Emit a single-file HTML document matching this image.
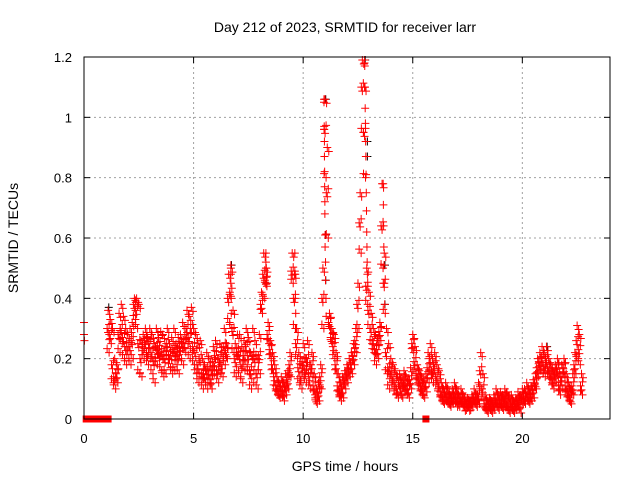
<!DOCTYPE html>
<html><head><meta charset="utf-8"><style>
body{margin:0;background:#fff;}
svg{display:block;font-family:"Liberation Sans",sans-serif;}
</style></head><body>
<svg id="chart" width="640" height="480" viewBox="0 0 640 480" xmlns="http://www.w3.org/2000/svg">
<text x="345" y="32" font-size="14" text-anchor="middle">Day 212 of 2023, SRMTID for receiver larr</text>
<text x="345" y="471" font-size="14" text-anchor="middle">GPS time / hours</text>
<text x="18" y="238" font-size="14" text-anchor="middle" transform="rotate(-90 18 238)">SRMTID / TECUs</text>
<g id="grid"></g>
<g id="marks"></g>
<g id="axes"></g>
</svg>
<script>
const xTicks=[0,5,10,15,20];
const yTicks=[0,0.2,0.4,0.6,0.8,1.0,1.2];
const yTickLabels=["0","0.2","0.4","0.6","0.8","1","1.2"];
const startT=[0,0,0.02];
const startV=[0.32,0.28,0.26];
const zeroT=[0.1,0.2,0.3,0.55,0.65,0.75,0.85,0.95,1.05,1.1,15.6];
const hiV=[.36,.33,.30,.20,.18,.35,.38,.34,.30,.28,
.30,.32,.40,.40,.38,.26,.28,.30,.27,.30,
.28,.25,.30,.27,.29,.28,.24,.30,.25,.27,
.30,.25,.27,.28,.32,.28,.36,.34,.37,.30,
.28,.25,.26,.20,.18,.22,.20,.16,.24,.26,
.20,.25,.22,.30,.25,.48,.50,.36,.25,.28,
.28,.24,.26,.30,.27,.22,.30,.26,.20,.28,
.42,.55,.50,.32,.26,.22,.18,.14,.12,.14,
.12,.15,.16,.22,.55,.48,.30,.22,.18,.25,
.20,.26,.18,.22,.15,.10,.12,.18,.50,1.06,
.90,.35,.30,.28,.22,.15,.12,.14,.16,.18,
.20,.22,.25,.30,.45,.75,1.19,1.10,.50,.42,
.35,.30,.28,.26,.32,.78,.55,.30,.25,.20,
.18,.16,.14,.15,.12,.16,.14,.13,.17,.28,
.24,.18,.16,.14,.12,.15,.22,.25,.20,.22,
.18,.16,.12,.10,.12,.10,.08,.10,.12,.10,
.08,.10,.08,.06,.07,.06,.08,.10,.08,.12,
.22,.15,.08,.06,.07,.06,.08,.10,.08,.09,
.08,.10,.09,.07,.08,.06,.07,.09,.08,.10,
.10,.12,.10,.11,.13,.15,.20,.22,.24,.22,
.24,.20,.18,.16,.18,.20,.15,.18,.20,.15,
.12,.10,.15,.22,.31,.28,.15];
const midV=[.30,.28,.18,.14,.15,.28,.30,.27,.24,.24,
.24,.26,.38,.36,.25,.20,.24,.26,.22,.25,
.22,.19,.24,.23,.22,.21,.20,.25,.21,.21,
.23,.22,.21,.24,.25,.25,.30,.27,.30,.24,
.22,.18,.20,.15,.15,.16,.16,.13,.19,.21,
.16,.20,.18,.24,.22,.40,.42,.29,.20,.22,
.21,.18,.21,.24,.21,.16,.21,.20,.15,.21,
.38,.48,.46,.28,.23,.18,.14,.11,.09,.11,
.09,.11,.13,.18,.49,.40,.25,.17,.14,.19,
.16,.20,.14,.18,.11,.07,.09,.14,.40,.96,
.75,.32,.27,.24,.18,.11,.09,.10,.13,.15,
.17,.18,.21,.26,.38,.65,1.10,.95,.44,.36,
.30,.26,.23,.23,.29,.64,.45,.22,.17,.16,
.14,.12,.10,.12,.09,.13,.11,.10,.13,.25,
.19,.15,.13,.11,.09,.12,.17,.20,.16,.18,
.14,.12,.09,.07,.09,.07,.06,.07,.09,.07,
.06,.07,.06,.04,.05,.04,.06,.07,.06,.08,
.16,.10,.05,.04,.05,.04,.05,.07,.05,.06,
.05,.07,.06,.04,.05,.04,.05,.06,.05,.07,
.07,.09,.07,.08,.10,.12,.17,.19,.20,.18,
.20,.17,.15,.13,.15,.17,.11,.14,.17,.11,
.09,.07,.11,.18,.26,.23,.11];
const loV=[.22,.25,.12,.10,.12,.22,.25,.20,.18,.20,
.18,.20,.33,.30,.15,.14,.20,.22,.18,.20,
.15,.12,.18,.20,.16,.14,.15,.20,.17,.15,
.16,.18,.15,.20,.18,.22,.25,.20,.22,.18,
.15,.12,.14,.10,.12,.10,.12,.10,.15,.16,
.12,.15,.14,.18,.20,.32,.30,.22,.14,.16,
.14,.12,.16,.18,.15,.10,.12,.15,.10,.15,
.35,.40,.44,.25,.20,.15,.10,.08,.07,.08,
.06,.08,.10,.14,.45,.30,.20,.12,.10,.14,
.12,.15,.10,.14,.08,.05,.06,.10,.30,.80,
.60,.30,.25,.20,.15,.08,.06,.07,.10,.12,
.14,.15,.18,.22,.30,.55,.95,.80,.38,.30,
.25,.22,.18,.20,.26,.50,.35,.15,.10,.12,
.10,.08,.07,.10,.07,.10,.08,.07,.10,.22,
.15,.12,.10,.08,.07,.09,.12,.15,.12,.14,
.10,.08,.06,.05,.06,.05,.04,.05,.06,.04,
.04,.05,.04,.03,.04,.03,.04,.05,.04,.05,
.10,.06,.03,.02,.03,.02,.03,.04,.03,.04,
.03,.04,.03,.02,.03,.02,.03,.04,.02,.05,
.05,.06,.05,.06,.07,.10,.14,.16,.15,.14,
.16,.14,.12,.10,.12,.14,.08,.10,.14,.08,
.06,.05,.08,.15,.20,.18,.08];
const firstT=1.1, stepT=0.1;
const spikeT=[6.7,6.7,6.7,6.72,6.72,8.3,8.3,8.32,8.32,8.34,9.62,9.62,9.64,9.64,9.66,9.66,
10.95,10.95,10.96,10.96,10.97,10.97,10.98,10.98,10.99,10.99,11.0,11.0,11.02,11.02,11.04,11.05,
12.8,12.8,12.81,12.82,12.83,12.84,12.85,12.86,12.87,12.88,12.89,12.9,12.91,12.92,12.93,12.95,
13.65,13.66,13.67,13.68,13.69,13.7,13.72];
const spikeV=[.51,.48,.45,.40,.35,.55,.52,.50,.47,.45,.55,.49,.48,.40,.35,.30,
1.06,1.05,.97,.96,.92,.87,.82,.77,.72,.68,.61,.57,.52,.46,.40,.34,
1.19,1.18,1.17,1.10,1.03,.98,.92,.87,.81,.75,.69,.62,.57,.52,.48,.44,
.78,.71,.64,.57,.51,.45,.38];
const blackT=[1.1,6.7,8.3,11.0,11.0,11.0,12.8,12.9,12.9,13.7,13.7,21.1];
const blackV=[0.37,0.51,0.45,1.06,0.46,0.61,1.19,0.87,0.92,0.51,0.38,0.24];

const X0=84,X1=610,Y0=419,Y1=57,XMAX=24,YMAX=1.2;
const sx=t=>X0+(X1-X0)*t/XMAX;
const sy=v=>Y0-(Y0-Y1)*v/YMAX;
const NS="http://www.w3.org/2000/svg";
function mk(tag,attrs,parent){const e=document.createElementNS(NS,tag);for(const k in attrs)e.setAttribute(k,attrs[k]);parent.appendChild(e);return e;}
const grid=document.getElementById('grid'),marks=document.getElementById('marks'),axes=document.getElementById('axes');
xTicks.forEach(t=>{
  if(t>0){const g=mk('line',{x1:sx(t),x2:sx(t),y1:Y0,y2:Y1,stroke:'#a0a0a0','stroke-dasharray':'2,3'},grid);
  
  }
  const a=mk('line',{x1:sx(t),x2:sx(t),y1:Y0,y2:Y0-6,stroke:'#000'},axes);
  
  
  const b=mk('line',{x1:sx(t),x2:sx(t),y1:Y1,y2:Y1+6,stroke:'#000'},axes);
  
  
  const l=mk('text',{x:sx(t),y:Y0+24,'font-size':13,'text-anchor':'middle'},axes);l.textContent=t;
  
  
});
yTicks.forEach((v,i)=>{
  if(v>0&&v<YMAX){const g=mk('line',{x1:X0,x2:X1,y1:sy(v),y2:sy(v),stroke:'#a0a0a0','stroke-dasharray':'2,3'},grid);
  
  }
  const a=mk('line',{x1:X0,x2:X0+6,y1:sy(v),y2:sy(v),stroke:'#000'},axes);
  
  
  const b=mk('line',{x1:X1,x2:X1-6,y1:sy(v),y2:sy(v),stroke:'#000'},axes);
  
  
  const l=mk('text',{x:X0-12,y:sy(v)+5,'font-size':13,'text-anchor':'end'},axes);l.textContent=yTickLabels[i];
  
  
});
const border=mk('rect',{x:X0,y:Y1,width:X1-X0,height:Y0-Y1,fill:'none',stroke:'#000'},axes);


function plus(t,v,color,dx,dy){
  const x=sx(t)+(dx||0),y=sy(v)+(dy||0);
  const p=mk('path',{d:`M${x-4},${y}h8M${x},${y-4}v8`,stroke:color,'stroke-width':1,fill:'none'},marks);
  
  
}
blackT.forEach((t,i)=>plus(t+0.03,blackV[i],'#000'));
startT.forEach((t,i)=>plus(t,startV[i],'#f00'));
hiV.forEach((v,i)=>{
  const t=firstT+i*stepT;
  plus(t,v,'#f00',0,0);plus(t,v,'#f00',1.5,4);
  plus(t,midV[i],'#f00',-1,0);plus(t,midV[i],'#f00',1,-4);plus(t,midV[i],'#f00',0,4);
  plus(t,loV[i],'#f00',1,0);plus(t,loV[i],'#f00',-1,-4);
});
spikeT.forEach((t,i)=>plus(t,spikeV[i],'#f00'));
zeroT.forEach(t=>{
  const r=mk('rect',{x:sx(t)-3.5,y:Y0-3.5,width:7,height:7,fill:'#f00'},marks);
  
  
});
</script>
</body></html>
